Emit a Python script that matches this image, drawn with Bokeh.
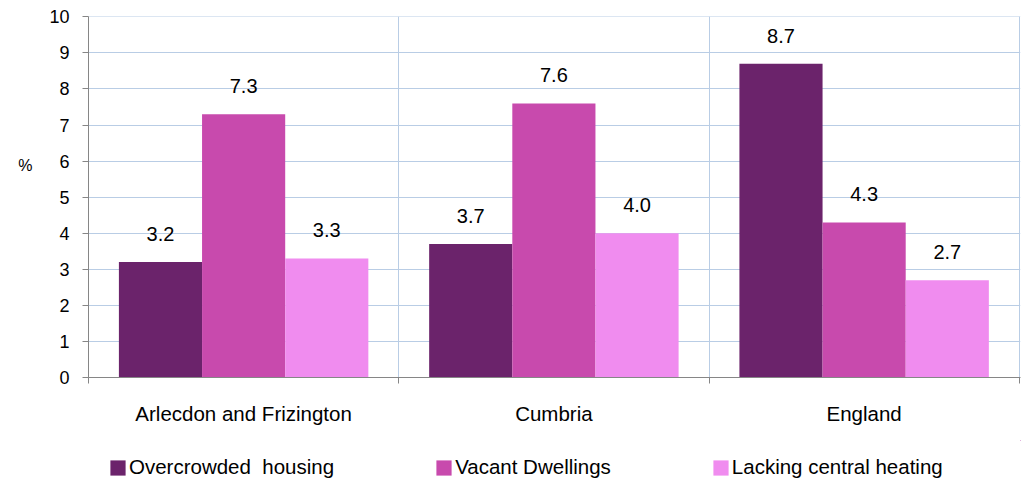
from bokeh.plotting import figure
from bokeh.layouts import column
from bokeh.models import Range1d, FixedTicker, ColumnDataSource, Legend, LegendItem, LinearAxis
from bokeh.core.properties import value
from bokeh.embed import file_html
from bokeh.resources import INLINE

categories = ["Arlecdon and Frizington", "Cumbria", "England"]
series_names = ["Overcrowded  housing", "Vacant Dwellings", "Lacking central heating"]
overcrowded = [3.2, 3.7, 8.7]
vacant = [7.3, 7.6, 4.3]
lacking = [3.3, 4.0, 2.7]
y_ticks = [0, 1, 2, 3, 4, 5, 6, 7, 8, 9, 10]

colors = ["#6B236B", "#C84AAD", "#F08CEF"]
FONT = "Liberation Sans"

p = figure(width=1027, height=440, output_backend="svg", toolbar_location=None,
           x_range=Range1d(0, 3.004), y_range=Range1d(0, 10.01),
           min_border_left=88, min_border_right=7, min_border_top=16, min_border_bottom=63)
p.outline_line_color = None
p.background_fill_color = "white"

# grids
p.xgrid.ticker = FixedTicker(ticks=[0, 1, 2, 3])
p.xgrid.grid_line_color = "#B9CDE5"
p.ygrid.ticker = FixedTicker(ticks=y_ticks)
p.ygrid.grid_line_color = "#B9CDE5"

# y axis
p.yaxis.ticker = FixedTicker(ticks=y_ticks)
p.yaxis.axis_line_color = "#868686"
p.yaxis.major_tick_line_color = "#868686"
p.yaxis.major_tick_out = 6
p.yaxis.major_tick_in = 0
p.yaxis.minor_tick_line_color = None
p.yaxis.major_label_text_font = FONT
p.yaxis.major_label_text_font_size = "18px"
p.yaxis.major_label_text_color = "black"
p.yaxis.major_label_standoff = 13

# "%" unit label as an extra axis
pct_pos = 5.87
unit_axis = LinearAxis(ticker=FixedTicker(ticks=[pct_pos]), major_label_overrides={pct_pos: "%"},
                       axis_line_color=None, major_tick_line_color=None, minor_tick_line_color=None,
                       major_label_text_font=FONT, major_label_text_font_size="16px",
                       major_label_text_color="black", major_label_standoff=8)
p.add_layout(unit_axis, "left")

# x axis
centers = [i + 0.5 for i in range(len(categories))]
p.xaxis.ticker = FixedTicker(ticks=centers, minor_ticks=[0, 1, 2, 3])
p.xaxis.major_label_overrides = {c: name for c, name in zip(centers, categories)}
p.xaxis.major_tick_line_color = None
p.xaxis.minor_tick_line_color = "#868686"
p.xaxis.minor_tick_out = 6
p.xaxis.minor_tick_in = 0
p.xaxis.axis_line_color = "#868686"
p.xaxis.major_label_text_font = FONT
p.xaxis.major_label_text_font_size = "20.5px"
p.xaxis.major_label_text_color = "black"
p.xaxis.major_label_standoff = 18

width = 0.268
offsets = [-width, 0.0, width]
sources = []
for vals, off, col in zip([overcrowded, vacant, lacking], offsets, colors):
    src = ColumnDataSource(dict(x=[c + off for c in centers], top=vals,
                                label=["%.1f" % v for v in vals]))
    sources.append(src)
    p.vbar(x="x", top="top", width=width, source=src, fill_color=col, line_color=None)
    p.text(x="x", y="top", text="label", source=src, text_align="center",
           text_baseline="middle", y_offset=-28, text_font=value(FONT),
           text_font_size="20px", text_color="black")

# legend strip underneath (its view ranges keep the proxy bars out of sight)
lg = figure(width=1027, height=40, output_backend="svg", toolbar_location=None,
            x_axis_type=None, y_axis_type=None, min_border=0,
            x_range=Range1d(-10, -9), y_range=Range1d(-10, -9))
lg.outline_line_color = None
legend_renderers = [lg.vbar(x="x", top="top", width=width, source=s, fill_color=c, line_color=None)
                    for s, c in zip(sources, colors)]
legend = Legend(items=[LegendItem(label=n, renderers=[r]) for n, r in zip(series_names, legend_renderers)],
                orientation="horizontal", location=(20, 1), padding=0, margin=0,
                spacing=100, glyph_width=19, glyph_height=19, label_standoff=2,
                label_text_font=FONT, label_text_font_size="20.5px", label_height=20,
                label_text_color="black",
                border_line_color=None, background_fill_alpha=0)
lg.add_layout(legend, "center")

layout = column(p, lg, spacing=0)
open("out.html", "w").write(file_html(layout, INLINE))
